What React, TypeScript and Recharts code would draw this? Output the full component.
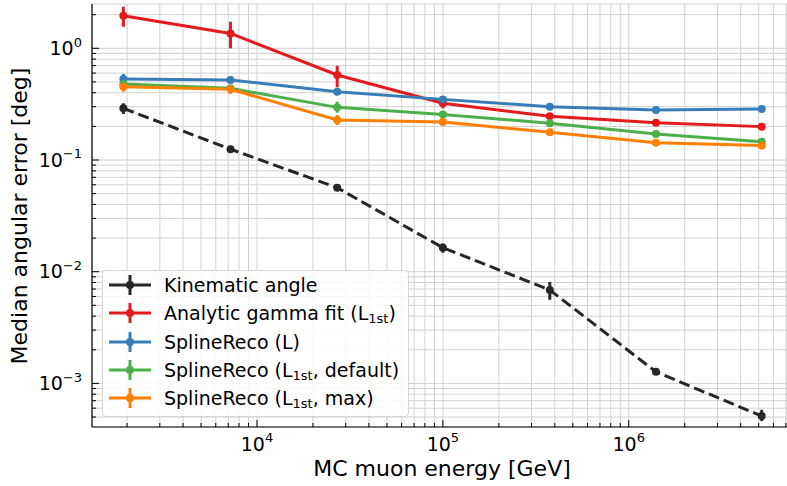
import { ComposedChart, Line, XAxis, YAxis, CartesianGrid, ErrorBar } from 'recharts';

const energy = [1.91e3, 7.2e3, 2.7e4, 1.0e5, 3.76e5, 1.4e6, 5.19e6];

const kinematic = [0.29, 0.125, 0.0565, 0.0164, 0.00686, 0.00127, 0.00051];
const kinematicLo = [0.258, 0.117, 0.053, 0.0148, 0.0056, 0.00121, 0.00046];
const kinematicHi = [0.322, 0.134, 0.06, 0.0179, 0.0081, 0.00134, 0.00058];

const gammaFit = [1.96, 1.36, 0.577, 0.322, 0.246, 0.216, 0.199];
const gammaFitLo = [1.56, 1.0, 0.448, 0.29, 0.235, 0.207, 0.19];
const gammaFitHi = [2.36, 1.73, 0.698, 0.35, 0.258, 0.226, 0.208];

const splineL = [0.531, 0.52, 0.409, 0.349, 0.3, 0.28, 0.286];
const splineLLo = [0.486, 0.49, 0.385, 0.33, 0.288, 0.262, 0.275];
const splineLHi = [0.589, 0.55, 0.435, 0.368, 0.312, 0.298, 0.297];

const splineDefault = [0.479, 0.438, 0.296, 0.256, 0.213, 0.171, 0.146];
const splineDefaultLo = [0.45, 0.415, 0.265, 0.243, 0.204, 0.163, 0.135];
const splineDefaultHi = [0.51, 0.462, 0.333, 0.27, 0.222, 0.18, 0.155];

const splineMax = [0.453, 0.43, 0.228, 0.219, 0.177, 0.143, 0.135];
const splineMaxLo = [0.409, 0.39, 0.206, 0.205, 0.168, 0.135, 0.125];
const splineMaxHi = [0.486, 0.46, 0.253, 0.236, 0.187, 0.152, 0.146];

const xMajor = [1e4, 1e5, 1e6];
const yMajor = [1e-3, 1e-2, 1e-1, 1];
const minorSteps = [2, 3, 4, 5, 6, 7, 8, 9];

const X_DOMAIN = [1295, 7.1e6];
const Y_DOMAIN = [4.07e-4, 2.493];

const FONT = 'DejaVu Sans, sans-serif';

const series = [
    { key: 'kin', label: ['Kinematic angle'], color: '#262626', values: kinematic, lo: kinematicLo, hi: kinematicHi, dashed: true },
    { key: 'gamma', label: ['Analytic gamma fit (L', '1st', ')'], color: '#e41a1c', values: gammaFit, lo: gammaFitLo, hi: gammaFitHi },
    { key: 'splL', label: ['SplineReco (L)'], color: '#377eb8', values: splineL, lo: splineLLo, hi: splineLHi },
    { key: 'splDef', label: ['SplineReco (L', '1st', ', default)'], color: '#4daf4a', values: splineDefault, lo: splineDefaultLo, hi: splineDefaultHi },
    { key: 'splMax', label: ['SplineReco (L', '1st', ', max)'], color: '#ff7f00', values: splineMax, lo: splineMaxLo, hi: splineMaxHi },
];

const rows = energy.map((e, i) => {
    const row: Record<string, number | number[]> = { energy: e };
    series.forEach((s) => {
        row[s.key] = s.values[i];
        row[s.key + 'Err'] = [s.values[i] - s.lo[i], s.hi[i] - s.values[i]];
    });
    return row;
});

function withMinors(majors: number[], lo: number, hi: number) {
    const out: number[] = [];
    const first = Math.floor(Math.log10(lo));
    const last = Math.ceil(Math.log10(hi));
    for (let k = first; k <= last; k++) {
        const base = 10 ** k;
        if (base >= lo && base <= hi) out.push(base);
        minorSteps.forEach((m) => {
            const v = m * base;
            if (v >= lo && v <= hi) out.push(v);
        });
    }
    majors.forEach((m) => { if (!out.includes(m)) out.push(m); });
    return out.sort((a, b) => a - b);
}

const xTicks = withMinors(xMajor, X_DOMAIN[0], X_DOMAIN[1]);
const yTicks = withMinors(yMajor, Y_DOMAIN[0], Y_DOMAIN[1]);

const isMajor = (v: number) => {
    const e = Math.round(Math.log10(v));
    return Math.abs(v - 10 ** e) / v < 1e-6;
};

const expLabel = (v: number) => {
    const e = Math.round(Math.log10(v));
    return e < 0 ? `\u2212${-e}` : `${e}`;
};

function XTick({ x, y, payload }: any) {
    const v = payload.value;
    const major = isMajor(v);
    return (
        <g>
            <line x1={x} x2={x} y1={y} y2={y - (major ? 7 : 4)} stroke="#000" strokeWidth={1} />
            {major && (
                <text x={x} y={y + 23.5} textAnchor="middle" fontSize={19} fontFamily={FONT} fill="#000">
                    10<tspan dy={-9} fontSize={13}>{expLabel(v)}</tspan>
                </text>
            )}
        </g>
    );
}

function YTick({ x, y, payload }: any) {
    const v = payload.value;
    const major = isMajor(v);
    return (
        <g>
            <line x1={x} x2={x + (major ? 7 : 4)} y1={y} y2={y} stroke="#000" strokeWidth={1} />
            {major && (
                <text x={x - 10} y={y + 6.7} textAnchor="end" fontSize={19} fontFamily={FONT} fill="#000">
                    10<tspan dy={-8.5} fontSize={13}>{expLabel(v)}</tspan>
                </text>
            )}
        </g>
    );
}

function Legend() {
    return (
        <div
            style={{
                position: 'absolute',
                left: 102,
                top: 270,
                width: 307,
                height: 147,
                boxSizing: 'border-box',
                border: '1px solid #d6d6d6',
                borderRadius: 4,
                background: 'rgba(255,255,255,0.85)',
                fontFamily: FONT,
                fontSize: 19,
                color: '#000',
            }}
        >
            {series.map((s, i) => (
                <div
                    key={s.key}
                    style={{ position: 'absolute', left: 0, top: 1 + i * 28.33 - 1, height: 28, lineHeight: '28px', whiteSpace: 'nowrap' }}
                >
                    <svg width={44} height={28} style={{ position: 'absolute', left: 5, top: 0 }}>
                        <line x1={1} x2={43} y1={14} y2={14} stroke={s.color} strokeWidth={3} />
                        <line x1={22} x2={22} y1={4} y2={24} stroke={s.color} strokeWidth={3} />
                        <circle cx={22} cy={14} r={4} fill={s.color} />
                    </svg>
                    <span style={{ position: 'absolute', left: 61, top: 0 }}>
                        {s.label[0]}
                        {s.label[1] && <span style={{ fontSize: 13, position: 'relative', top: 3 }}>{s.label[1]}</span>}
                        {s.label[2]}
                    </span>
                </div>
            ))}
        </div>
    );
}

export default function App() {
    return (
        <div style={{ position: 'absolute', left: 0, top: 0, width: 787, height: 486, background: '#fff' }}>
            <ComposedChart
                width={787}
                height={486}
                data={rows}
                margin={{ top: 4, right: 0, bottom: 0, left: 0 }}
                style={{ fontFamily: FONT }}
            >
                <CartesianGrid stroke="#d0d0d0" strokeWidth={1} />
                <XAxis
                    dataKey="energy"
                    type="number"
                    scale="log"
                    domain={X_DOMAIN}
                    allowDataOverflow
                    ticks={xTicks}
                    interval={0}
                    height={59}
                    tickSize={0}
                    tickMargin={0}
                    tickLine={false}
                    axisLine={{ stroke: '#000', strokeWidth: 1.2 }}
                    tick={<XTick />}
                    label={{
                        content: () => (
                            <text x={442} y={476} textAnchor="middle" fontSize={22} fontFamily={FONT} fill="#000">
                                MC muon energy [GeV]
                            </text>
                        ),
                    }}
                />
                <XAxis
                    xAxisId="top"
                    orientation="top"
                    type="number"
                    scale="log"
                    domain={X_DOMAIN}
                    allowDataOverflow
                    height={0}
                    tick={false}
                    tickLine={false}
                    axisLine={{ stroke: '#333', strokeWidth: 1.2 }}
                />
                <YAxis
                    type="number"
                    scale="log"
                    domain={Y_DOMAIN}
                    allowDataOverflow
                    ticks={yTicks}
                    interval={0}
                    width={92}
                    tickSize={0}
                    tickMargin={0}
                    tickLine={false}
                    axisLine={{ stroke: '#000', strokeWidth: 1.2 }}
                    tick={<YTick />}
                    label={{
                        content: () => (
                            <text
                                x={27}
                                y={216}
                                transform="rotate(-90 27 216)"
                                textAnchor="middle"
                                fontSize={22}
                                fontFamily={FONT}
                                fill="#000"
                            >
                                Median angular error [deg]
                            </text>
                        ),
                    }}
                />
                {series.map((s) => (
                    <Line
                        key={s.key}
                        dataKey={s.key}
                        type="linear"
                        stroke={s.color}
                        strokeWidth={3}
                        strokeDasharray={s.dashed ? '11 5' : undefined}
                        dot={{ r: 4, fill: s.color, stroke: s.color, strokeWidth: 0 }}
                        activeDot={false}
                        isAnimationActive={false}
                    >
                        <ErrorBar dataKey={s.key + 'Err'} direction="y" width={0} stroke={s.color} strokeWidth={3} isAnimationActive={false} />
                    </Line>
                ))}
            </ComposedChart>
            <Legend />
        </div>
    );
}
